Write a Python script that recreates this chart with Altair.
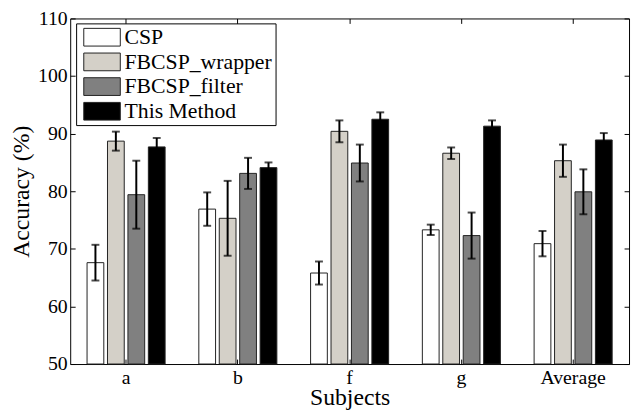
import altair as alt
import pandas as pd

subjects = ["a", "b", "f", "g", "Average"]
methods = ["CSP", "FBCSP_wrapper", "FBCSP_filter", "This Method"]
colors = ["#ffffff", "#d4d0c8", "#808080", "#000000"]

csp = [67.6, 76.9, 65.8, 73.3, 70.9]
csp_err = [3.1, 2.9, 2.0, 0.9, 2.2]
wrapper = [88.7, 75.3, 90.4, 86.6, 85.3]
wrapper_err = [1.65, 6.5, 1.9, 1.0, 2.8]
filt = [79.4, 83.1, 84.9, 72.3, 79.9]
filt_err = [5.9, 2.7, 3.2, 4.0, 3.9]
this_method = [87.7, 84.1, 92.5, 91.3, 88.9]
this_err = [1.55, 0.9, 1.2, 1.0, 1.2]

y_ticks = [50, 60, 70, 80, 90, 100, 110]

rows = []
for m, vals, errs in zip(methods, [csp, wrapper, filt, this_method],
                         [csp_err, wrapper_err, filt_err, this_err]):
    for s, v, e in zip(subjects, vals, errs):
        rows.append({"subject": s, "method": m, "acc": v, "lo": v - e, "hi": v + e})
df = pd.DataFrame(rows)

FONT = "Liberation Serif"

xscale = alt.Scale(domain=subjects, paddingInner=0, paddingOuter=0)
yscale = alt.Scale(domain=[50, 110], nice=False, zero=False)
xoff = alt.XOffset("method:N", sort=methods,
                   scale=alt.Scale(domain=methods, paddingInner=0.18, paddingOuter=0.825))

tick_grid = dict(grid=True, gridDash=[5, 3000], gridColor="black", gridWidth=1,
                 gridOpacity=1, ticks=False, domain=False)

bars = alt.Chart(df).mark_bar(stroke="#222222", strokeWidth=1).encode(
    x=alt.X("subject:N", sort=subjects, scale=xscale,
            axis=alt.Axis(orient="bottom", title="Subjects", labelAngle=0,
                          labelFont=FONT, labelFontSize=20, labelColor="black",
                          labelPadding=4, titleFont=FONT, titleFontSize=24,
                          titleFontWeight="normal", titleColor="black",
                          titleBaseline="alphabetic", titleY=41,
                          bandPosition=0.5, **tick_grid)),
    xOffset=xoff,
    y=alt.Y("acc:Q", scale=yscale,
            axis=alt.Axis(orient="left", title="Accuracy (%)", values=y_ticks,
                          labelFont=FONT, labelFontSize=20, labelColor="black",
                          labelPadding=3, titleFont=FONT, titleFontSize=24,
                          titleFontWeight="normal", titleColor="black",
                          titlePadding=4, **tick_grid)),
    y2=alt.datum(50),
    fill=alt.Fill("method:N", sort=methods,
                  scale=alt.Scale(domain=methods, range=colors),
                  legend=alt.Legend(title=None, orient="none", legendX=6, legendY=5,
                                    padding=3, strokeColor="black", fillColor="white",
                                    symbolType="M-0.676,-0.97H3.324V0.97H-0.676Z",
                                    symbolSize=342, symbolStrokeColor="#222222",
                                    symbolStrokeWidth=1, symbolOpacity=1,
                                    labelFont=FONT, labelFontSize=22,
                                    labelColor="black", labelOffset=24,
                                    rowPadding=3, labelLimit=300)),
)

rule = alt.Chart(df).mark_rule(color="black", strokeWidth=2).encode(
    x=alt.X("subject:N", sort=subjects, scale=xscale,
            axis=alt.Axis(orient="top", labels=False, title=None,
                          bandPosition=0.5, **tick_grid)),
    xOffset=xoff,
    y=alt.Y("lo:Q", scale=yscale,
            axis=alt.Axis(orient="right", labels=False, title=None,
                          values=y_ticks, **tick_grid)),
    y2="hi:Q",
)

cap_lo = alt.Chart(df).mark_tick(color="black", thickness=2, size=8, orient="horizontal").encode(
    x=alt.X("subject:N", sort=subjects, scale=xscale, axis=None),
    xOffset=xoff,
    y=alt.Y("lo:Q", scale=yscale, axis=None),
)
cap_hi = alt.Chart(df).mark_tick(color="black", thickness=2, size=8, orient="horizontal").encode(
    x=alt.X("subject:N", sort=subjects, scale=xscale, axis=None),
    xOffset=xoff,
    y=alt.Y("hi:Q", scale=yscale, axis=None),
)

chart = alt.layer(bars, rule, cap_lo, cap_hi).resolve_axis(
    x="independent", y="independent"
).properties(
    width=566, height=350,
    autosize=alt.AutoSizeParams(type="none"),
    padding={"left": 63, "top": 8, "right": 2, "bottom": 46},
    background="white",
).configure_view(stroke="black", strokeWidth=1)

chart.save("out.html", embed_options={"renderer": "svg", "actions": False})
